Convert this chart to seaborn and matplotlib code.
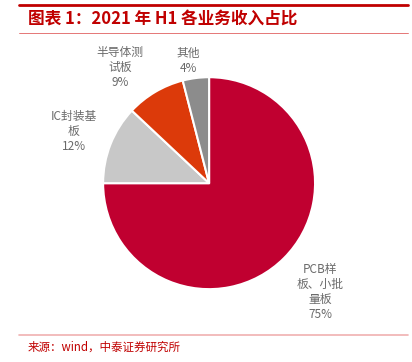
import numpy as np
import matplotlib.pyplot as plt
import seaborn as sns

# data
categories = ['PCB样\n板、小批\n量板', 'IC封装基\n板', '半导体测\n试板', '其他']
shares = [75, 12, 9, 4]
colors = ['#C00030', '#C8C8C8', '#DC3A0A', '#8C8C8C']
label_dist = [1.47, 1.37, 1.38, 1.17]
label_turn = [0.5, 0.6, 6.9, 2.6]   # degrees off each wedge's mid angle

sns.set_theme(style="white")
plt.rcParams['font.family'] = ['Noto Sans CJK SC', 'DejaVu Sans']

fig = plt.figure(figsize=(4.12, 3.62), dpi=100)
ax = fig.add_axes([0.186, 0.128, 0.643, 0.732])

wedges, _ = ax.pie(shares, colors=colors, startangle=90, counterclock=False,
                   wedgeprops=dict(edgecolor='white', linewidth=1.5))
ax.set_xlim(-1.25, 1.25)
ax.set_ylim(-1.25, 1.25)
ax.set_aspect('equal')

# labels placed around each wedge
for w, name, val, d, t in zip(wedges, categories, shares, label_dist, label_turn):
    ang = np.deg2rad((w.theta1 + w.theta2) / 2 + t)
    ax.text(d * np.cos(ang), d * np.sin(ang), '{}\n{}%'.format(name, val),
            ha='center', va='center', fontsize=8.5, color='#6A6A6A',
            linespacing=1.2)

# header and footer decoration
fig.add_artist(plt.Line2D([0.045, 0.99], [0.985, 0.985], color='#C00000', lw=2))
fig.text(0.068, 0.945, '图表 1：2021 年 H1 各业务收入占比', fontsize=12,
         fontweight='bold', style='italic', color='#C00000', va='center')
fig.add_artist(plt.Line2D([0.045, 0.99], [0.91, 0.91], color='#E06060', lw=0.6))
fig.add_artist(plt.Line2D([0.045, 0.99], [0.075, 0.075], color='#F0B0B0', lw=1.2))
fig.text(0.068, 0.04, '来源：wind，中泰证券研究所', fontsize=8.3,
         color='#C00000', va='center')

fig.savefig('out.png', dpi=100)
